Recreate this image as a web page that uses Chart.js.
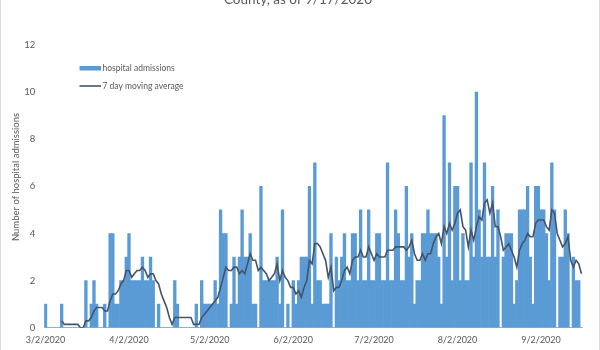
<!DOCTYPE html>
<html>
<head>
<meta charset="utf-8">
<script src="https://cdn.jsdelivr.net/npm/chart.js@4.4.1/dist/chart.umd.min.js"></script>
<style>
  html, body { margin: 0; padding: 0; background: #fff; }
  #wrap { position: relative; width: 600px; height: 350px; overflow: hidden; }
</style>
</head>
<body>
<div id="wrap"><canvas id="chart" width="600" height="350"></canvas></div>
<script>
// Daily hospital admissions, 3/2/2020 through 9/17/2020
const firstDay = { year: 2020, month: 3, day: 2 };
const tickLabels = ['3/2/2020', '4/2/2020', '5/2/2020', '6/2/2020', '7/2/2020', '8/2/2020', '9/2/2020'];

const admissions = [
  1, 0, 0, 0, 0, 0, 1, 0, 0, 0,
  0, 0, 0, 0, 0, 2, 0, 1, 2, 1,
  0, 0, 1, 0, 4, 4, 1, 1, 2, 2,
  3, 4, 2, 2, 2, 2, 3, 2, 2, 3,
  2, 0, 1, 0, 0, 0, 0, 0, 2, 1,
  0, 0, 0, 0, 0, 0, 1, 0, 2, 1,
  1, 1, 1, 2, 1, 5, 4, 4, 0, 1,
  3, 1, 3, 5, 3, 3, 4, 1, 1, 0,
  6, 2, 2, 2, 2, 2, 3, 1, 5, 0,
  1, 0, 2, 1, 2, 3, 3, 3, 6, 1,
  7, 2, 2, 1, 1, 1, 4, 0, 3, 2,
  3, 4, 2, 2, 4, 4, 2, 5, 2, 2,
  5, 2, 2, 4, 4, 2, 2, 7, 2, 2,
  5, 4, 2, 2, 6, 3, 4, 1, 2, 2,
  4, 4, 5, 4, 4, 4, 3, 1, 9, 3,
  7, 2, 6, 6, 2, 4, 2, 2, 7, 3,
  10, 5, 3, 7, 3, 3, 6, 3, 5, 0,
  3, 4, 4, 4, 1, 2, 5, 5, 5, 6,
  3, 1, 6, 6, 5, 5, 4, 2, 7, 5,
  0, 3, 3, 5, 4, 0, 3, 2, 2, 0
];

const movingAverage = [
  null, null, null, null, null, null, 0.29, 0.14, 0.14, 0.14,
  0.14, 0.14, 0.14, 0, 0, 0.29, 0.29, 0.43, 0.71, 0.86,
  0.86, 0.86, 0.71, 0.71, 1.14, 1.43, 1.43, 1.57, 1.86, 2.0,
  2.43, 2.43, 2.14, 2.29, 2.43, 2.43, 2.57, 2.43, 2.14, 2.29,
  2.29, 2.0, 1.86, 1.43, 1.14, 0.86, 0.43, 0.14, 0.43, 0.43,
  0.43, 0.43, 0.43, 0.43, 0.43, 0.14, 0.14, 0.14, 0.43, 0.57,
  0.71, 0.86, 1.0, 1.14, 1.29, 1.71, 2.14, 2.57, 2.43, 2.43,
  2.57, 2.57, 2.29, 2.43, 2.29, 2.71, 3.14, 2.86, 2.86, 2.43,
  2.57, 2.43, 2.29, 2.0, 2.14, 2.29, 2.71, 2.0, 2.43, 2.14,
  2.0, 1.71, 1.71, 1.43, 1.57, 1.29, 1.71, 2.0, 2.86, 2.71,
  3.57, 3.57, 3.43, 3.14, 2.86, 2.14, 2.57, 1.57, 1.71, 1.71,
  2.0, 2.43, 2.57, 2.29, 2.86, 3.0, 3.0, 3.29, 3.0, 3.0,
  3.43, 3.14, 2.86, 3.14, 3.0, 3.0, 3.0, 3.29, 3.29, 3.29,
  3.43, 3.43, 3.43, 3.43, 3.29, 3.43, 3.71, 3.14, 2.86, 2.86,
  3.14, 2.86, 3.14, 3.14, 3.57, 3.86, 4.0, 3.57, 4.29, 4.0,
  4.43, 4.14, 4.43, 4.86, 5.0, 4.29, 4.14, 3.43, 4.14, 3.71,
  4.29, 4.71, 4.57, 5.29, 5.43, 4.86, 5.29, 4.29, 4.29, 3.86,
  3.29, 3.43, 3.57, 3.29, 3.0, 2.57, 3.29, 3.57, 3.71, 4.0,
  3.86, 3.86, 4.43, 4.57, 4.57, 4.57, 4.29, 4.14, 5.0, 4.86,
  4.0, 3.71, 3.43, 3.57, 3.86, 2.86, 2.57, 2.86, 2.71, 2.29
];

// One category per calendar day
const days = admissions.map((_, i) => {
  const d = new Date(firstDay.year, firstDay.month - 1, firstDay.day + i);
  return (d.getMonth() + 1) + '/' + d.getDate() + '/' + d.getFullYear();
});

const TEXT = '#595959';
const BAR = '#5B9BD5';
const LINE = '#44546A';
Chart.defaults.font.family = 'Lato, "Open Sans", sans-serif';
Chart.defaults.color = TEXT;

// Title, axis title, in-plot legend and outer frame
const decorations = {
  id: 'decorations',
  afterDraw(chart) {
    const ctx = chart.ctx;
    ctx.save();
    ctx.fillStyle = TEXT;
    ctx.font = '13.5px Lato, sans-serif';
    ctx.textAlign = 'center';
    ctx.textBaseline = 'alphabetic';
    ctx.fillText('County, as of 9/17/2020', 298, 4);

    ctx.save();
    ctx.translate(16, 177);
    ctx.rotate(-Math.PI / 2);
    ctx.font = '9.5px Lato, sans-serif';
    ctx.textBaseline = 'middle';
    ctx.fillText('Number of hospital admissions', 0, 0);
    ctx.restore();

    ctx.font = '8.5px Lato, sans-serif';
    ctx.textAlign = 'left';
    ctx.textBaseline = 'middle';
    ctx.fillStyle = BAR;
    ctx.fillRect(79.5, 66, 21.5, 4.5);
    ctx.fillStyle = TEXT;
    ctx.fillText(chart.data.datasets[0].label, 102.5, 68.5);
    ctx.strokeStyle = LINE;
    ctx.lineWidth = 1.6;
    ctx.beginPath();
    ctx.moveTo(79.5, 86);
    ctx.lineTo(101, 86);
    ctx.stroke();
    ctx.fillText(chart.data.datasets[1].label, 102.5, 86);

    ctx.strokeStyle = '#d9d9d9';
    ctx.lineWidth = 1;
    ctx.beginPath();
    ctx.moveTo(0.5, 0); ctx.lineTo(0.5, 350);
    ctx.moveTo(599.5, 0); ctx.lineTo(599.5, 350);
    ctx.stroke();
    ctx.restore();
  }
};

new Chart(document.getElementById('chart'), {
  data: {
    labels: days,
    datasets: [
      {
        type: 'bar',
        label: 'hospital admissions',
        data: admissions,
        backgroundColor: BAR,
        borderWidth: 0,
        barPercentage: 1,
        categoryPercentage: 1,
        order: 1
      },
      {
        type: 'line',
        label: '7 day moving average',
        data: movingAverage,
        borderColor: LINE,
        borderWidth: 1.6,
        pointRadius: 0,
        tension: 0,
        fill: false,
        order: 0
      }
    ]
  },
  options: {
    responsive: false,
    animation: false,
    devicePixelRatio: 1,
    layout: { padding: { top: 45, right: 17.2, bottom: 0, left: 0 } },
    plugins: {
      legend: { display: false },
      tooltip: { enabled: false },
      title: { display: false }
    },
    scales: {
      x: {
        type: 'category',
        offset: true,
        grid: { display: false, drawTicks: false },
        border: { display: true, color: '#d9d9d9', width: 1 },
        ticks: {
          autoSkip: false,
          maxRotation: 0,
          minRotation: 0,
          padding: 7,
          font: { size: 9 },
          color: TEXT,
          callback(value) {
            const l = this.getLabelForValue(value);
            return tickLabels.includes(l) ? l : '';
          }
        },
        afterFit(scale) { scale.height = 22.3; }
      },
      y: {
        min: 0,
        max: 12,
        grid: { display: false, drawTicks: false },
        border: { display: false },
        ticks: { stepSize: 2, padding: 9, font: { size: 9.5 }, color: TEXT },
        afterFit(scale) { scale.width = 44.15; }
      }
    }
  },
  plugins: [decorations]
});
</script>
</body>
</html>
